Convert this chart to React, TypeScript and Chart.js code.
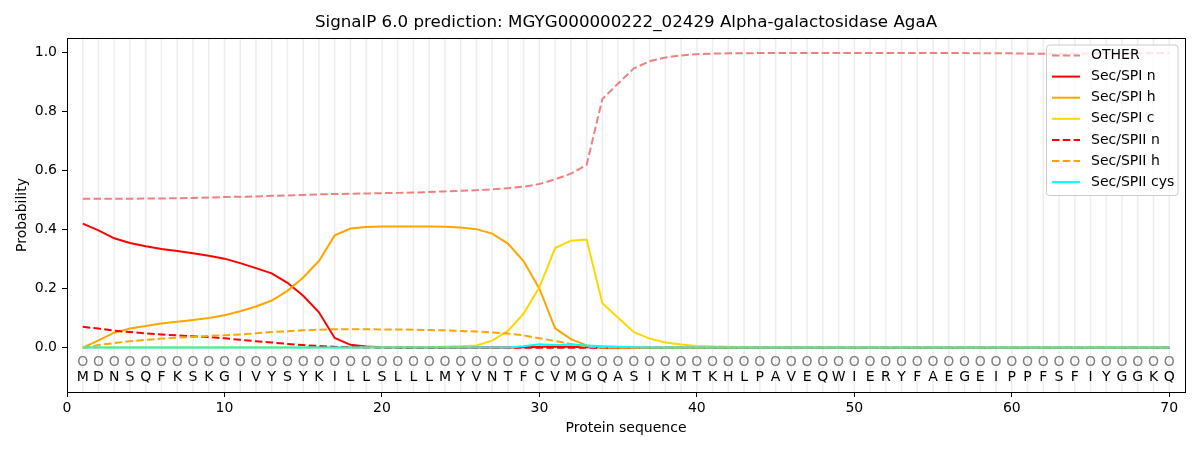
import React, { useEffect, useRef } from "react";
import { Chart, ChartConfiguration, Plugin, registerables } from "chart.js";

Chart.register(...registerables);

const chartTitle = "SignalP 6.0 prediction: MGYG000000222_02429 Alpha-galactosidase AgaA";

const sequence = "MDNSQFKSKGIVYSYKILLSLLLMYVNTFCVMGQASIKMTKHLPAVEQWIERYFAEGEIPPFSFIYGGKQ".split("");
const positions = sequence.map((_, i) => i + 1);

const xTicks = [0, 10, 20, 30, 40, 50, 60, 70];
const yTicks = [0, 0.2, 0.4, 0.6, 0.8, 1.0];

const other = [
  0.505, 0.505, 0.505, 0.505, 0.506, 0.506, 0.507, 0.508, 0.509, 0.511,
  0.512, 0.513, 0.515, 0.516, 0.518, 0.52, 0.521, 0.522, 0.523, 0.524,
  0.525, 0.526, 0.528, 0.53, 0.532, 0.534, 0.537, 0.541, 0.546, 0.555,
  0.571, 0.59, 0.62, 0.843, 0.896, 0.947, 0.971, 0.984, 0.991, 0.995,
  0.997, 0.998, 0.998, 0.999, 0.999, 0.999, 0.999, 0.999, 0.999, 0.999,
  0.999, 0.999, 0.999, 0.999, 0.999, 0.999, 0.999, 0.998, 0.998, 0.998,
  0.997, 0.997, 0.997, 0.997, 0.998, 0.998, 0.998, 0.998, 0.999, 0.999,
];

const spiN = [
  0.421, 0.398, 0.371, 0.355, 0.344, 0.335, 0.328, 0.32, 0.312, 0.302,
  0.287, 0.27, 0.252, 0.22, 0.176, 0.12, 0.033, 0.01, 0.004, 0.002,
  0.001, 0.001, 0.001, 0.001, 0.001, 0.001, 0.001, 0.001, 0.002, 0.003,
  0.004, 0.003, 0.002, 0.001, 0, 0, 0, 0, 0, 0,
  0, 0, 0, 0, 0, 0, 0, 0, 0, 0,
  0, 0, 0, 0, 0, 0, 0, 0, 0, 0,
  0, 0, 0, 0, 0, 0, 0, 0, 0, 0,
];

const spiH = [
  0.0, 0.025, 0.051, 0.065, 0.074, 0.082, 0.088, 0.094, 0.101, 0.11,
  0.124, 0.14, 0.16, 0.193, 0.238, 0.294, 0.381, 0.404, 0.409, 0.411,
  0.411, 0.411, 0.411, 0.41, 0.408, 0.402, 0.387, 0.353, 0.293, 0.2,
  0.066, 0.029, 0.008, 0.002, 0.001, 0, 0, 0, 0, 0,
  0, 0, 0, 0, 0, 0, 0, 0, 0, 0,
  0, 0, 0, 0, 0, 0, 0, 0, 0, 0,
  0, 0, 0, 0, 0, 0, 0, 0, 0, 0,
];

const spiC = [
  0.001, 0.001, 0.001, 0.001, 0.001, 0.001, 0.001, 0.001, 0.001, 0.001,
  0.001, 0.001, 0.001, 0.001, 0.001, 0.001, 0.001, 0.001, 0.002, 0.002,
  0.002, 0.002, 0.002, 0.003, 0.005, 0.008, 0.024, 0.057, 0.116, 0.205,
  0.338, 0.363, 0.367, 0.151, 0.102, 0.053, 0.031, 0.018, 0.011, 0.006,
  0.004, 0.003, 0.002, 0.001, 0.001, 0.001, 0.001, 0.001, 0.001, 0.001,
  0.001, 0.001, 0.001, 0.001, 0.001, 0.001, 0.001, 0.001, 0.001, 0.001,
  0.001, 0.001, 0.001, 0.001, 0.001, 0.001, 0.001, 0.001, 0.001, 0.001,
];

const spiiN = [
  0.071, 0.065, 0.058, 0.053, 0.049, 0.045, 0.042, 0.039, 0.036, 0.032,
  0.027, 0.022, 0.018, 0.013, 0.009, 0.006, 0.003, 0.002, 0.001, 0,
  0, 0, 0, 0, 0, 0, 0, 0, 0, 0,
  0, 0, 0, 0, 0, 0, 0, 0, 0, 0,
  0, 0, 0, 0, 0, 0, 0, 0, 0, 0,
  0, 0, 0, 0, 0, 0, 0, 0, 0, 0,
  0, 0, 0, 0, 0, 0, 0, 0, 0, 0,
];

const spiiH = [
  0.0, 0.009, 0.016, 0.022, 0.027, 0.031, 0.034, 0.037, 0.04, 0.042,
  0.045, 0.049, 0.053, 0.056, 0.059, 0.061, 0.063, 0.063, 0.063, 0.062,
  0.062, 0.061, 0.06, 0.059, 0.057, 0.055, 0.052, 0.048, 0.042, 0.032,
  0.023, 0.013, 0.004, 0.001, 0, 0, 0, 0, 0, 0,
  0, 0, 0, 0, 0, 0, 0, 0, 0, 0,
  0, 0, 0, 0, 0, 0, 0, 0, 0, 0,
  0, 0, 0, 0, 0, 0, 0, 0, 0, 0,
];

const spiiCys = [
  0.001, 0.001, 0.001, 0.001, 0.001, 0.001, 0.001, 0.001, 0.001, 0.001,
  0.001, 0.001, 0.001, 0.001, 0.001, 0.001, 0.001, 0.001, 0.001, 0.001,
  0.001, 0.001, 0.001, 0.001, 0.001, 0.001, 0.001, 0.001, 0.005, 0.012,
  0.009, 0.011, 0.008, 0.005, 0.003, 0.002, 0.001, 0.001, 0.001, 0.001,
  0.001, 0.001, 0.001, 0.001, 0.001, 0.001, 0.001, 0.001, 0.001, 0.001,
  0.001, 0.001, 0.001, 0.001, 0.001, 0.001, 0.001, 0.001, 0.001, 0.001,
  0.001, 0.001, 0.001, 0.001, 0.001, 0.001, 0.001, 0.001, 0.001, 0.001,
];

const DASH = [7.5, 3.3];
const FONT = "'DejaVu Sans', sans-serif";

const series = [
  { label: "OTHER", values: other, color: "#F08080", dash: DASH },
  { label: "Sec/SPI n", values: spiN, color: "#FF0000", dash: [] },
  { label: "Sec/SPI h", values: spiH, color: "#FFA500", dash: [] },
  { label: "Sec/SPI c", values: spiC, color: "#FFD700", dash: [] },
  { label: "Sec/SPII n", values: spiiN, color: "#FF0000", dash: DASH },
  { label: "Sec/SPII h", values: spiiH, color: "#FFA500", dash: DASH },
  { label: "Sec/SPII cys", values: spiiCys, color: "#00FFFF", dash: [] },
];

// grid, residue letters, frame, title and legend in matplotlib style
const decorations: Plugin<"line"> = {
  id: "decorations",
  beforeDatasetsDraw(chart) {
    const { ctx, chartArea, scales } = chart;
    ctx.save();
    ctx.strokeStyle = "#ededed";
    ctx.lineWidth = 1.5;
    positions.forEach((p) => {
      const x = scales.x.getPixelForValue(p);
      ctx.beginPath();
      ctx.moveTo(x, chartArea.top);
      ctx.lineTo(x, chartArea.bottom);
      ctx.stroke();
    });
    ctx.restore();
  },
  afterDatasetsDraw(chart) {
    const { ctx, chartArea, scales } = chart;
    ctx.save();

    ctx.font = `14px ${FONT}`;
    ctx.textAlign = "center";
    ctx.textBaseline = "middle";
    positions.forEach((p, i) => {
      const x = scales.x.getPixelForValue(p);
      ctx.fillStyle = "#808080";
      ctx.fillText("O", x, scales.y.getPixelForValue(-0.05));
      ctx.fillStyle = "#000000";
      ctx.fillText(sequence[i], x, scales.y.getPixelForValue(-0.1));
    });

    ctx.strokeStyle = "#000000";
    ctx.lineWidth = 1;
    ctx.strokeRect(
      Math.round(chartArea.left) + 0.5,
      Math.round(chartArea.top) + 0.5,
      Math.round(chartArea.right - chartArea.left),
      Math.round(chartArea.bottom - chartArea.top)
    );

    ctx.font = `16.7px ${FONT}`;
    ctx.fillStyle = "#000000";
    ctx.fillText(chartTitle, (chartArea.left + chartArea.right) / 2, 23);

    // legend
    const boxLeft = 1046.5;
    const boxTop = 45;
    const boxW = 131.5;
    const boxH = 150.5;
    ctx.fillStyle = "rgba(255,255,255,0.8)";
    ctx.strokeStyle = "#cccccc";
    ctx.lineWidth = 1;
    ctx.beginPath();
    ctx.roundRect(boxLeft, boxTop, boxW, boxH, 3);
    ctx.fill();
    ctx.stroke();

    ctx.textAlign = "left";
    ctx.font = `14px ${FONT}`;
    series.forEach((s, i) => {
      const y = 55.5 + i * 21.1;
      ctx.strokeStyle = s.color;
      ctx.lineWidth = 2;
      ctx.setLineDash(s.dash);
      ctx.beginPath();
      ctx.moveTo(1052, y);
      ctx.lineTo(1080, y);
      ctx.stroke();
      ctx.setLineDash([]);
      ctx.fillStyle = "#000000";
      ctx.fillText(s.label, 1091, y);
    });

    ctx.restore();
  },
};

const App: React.FC = () => {
  const chartRef = useRef<HTMLCanvasElement | null>(null);

  useEffect(() => {
    document.body.style.margin = "0";
    if (!chartRef.current) return;

    const config: ChartConfiguration<"line"> = {
      type: "line",
      data: {
        datasets: series.map((s, i) => ({
          label: s.label,
          data: s.values.map((v, j) => ({ x: positions[j], y: v })),
          borderColor: s.color,
          backgroundColor: s.color,
          borderWidth: 2,
          borderDash: s.dash,
          pointRadius: 0,
          tension: 0,
          fill: false,
          order: series.length - i,
        })),
      },
      options: {
        animation: false,
        responsive: true,
        maintainAspectRatio: false,
        layout: { padding: { top: 38, right: 15, left: 0, bottom: 0 } },
        plugins: {
          legend: { display: false },
          title: { display: false },
          tooltip: { enabled: false },
        },
        scales: {
          x: {
            type: "linear",
            min: 0,
            max: 71,
            afterBuildTicks: (scale) => {
              scale.ticks = xTicks.map((v) => ({ value: v }));
            },
            afterFit: (scale) => {
              scale.height = 58;
            },
            border: { display: false },
            grid: {
              drawOnChartArea: false,
              drawTicks: true,
              tickLength: 5,
              color: "#000000",
              tickColor: "#000000",
            },
            ticks: {
              color: "#000000",
              font: { family: FONT, size: 14 },
              padding: 3,
              maxRotation: 0,
            },
            title: {
              display: true,
              text: "Protein sequence",
              color: "#000000",
              font: { family: FONT, size: 14 },
              padding: { top: 0, bottom: 13.6 },
            },
          },
          y: {
            type: "linear",
            min: -0.15,
            max: 1.05,
            afterBuildTicks: (scale) => {
              scale.ticks = yTicks.map((v) => ({ value: v }));
            },
            afterFit: (scale) => {
              scale.width = 67;
            },
            border: { display: false },
            grid: {
              drawOnChartArea: false,
              drawTicks: true,
              tickLength: 5,
              color: "#000000",
              tickColor: "#000000",
            },
            ticks: {
              color: "#000000",
              font: { family: FONT, size: 14 },
              padding: 5,
              callback: (v) => Number(v).toFixed(1),
            },
            title: {
              display: true,
              text: "Probability",
              color: "#000000",
              font: { family: FONT, size: 14 },
              padding: { top: 13.6, bottom: 0 },
            },
          },
        },
      },
      plugins: [decorations],
    };

    const chart = new Chart(chartRef.current, config);
    return () => {
      chart.destroy();
    };
  }, []);

  return (
    <div style={{ width: 1200, height: 450, position: "relative", background: "#ffffff" }}>
      <canvas ref={chartRef}></canvas>
    </div>
  );
};

export default App;
